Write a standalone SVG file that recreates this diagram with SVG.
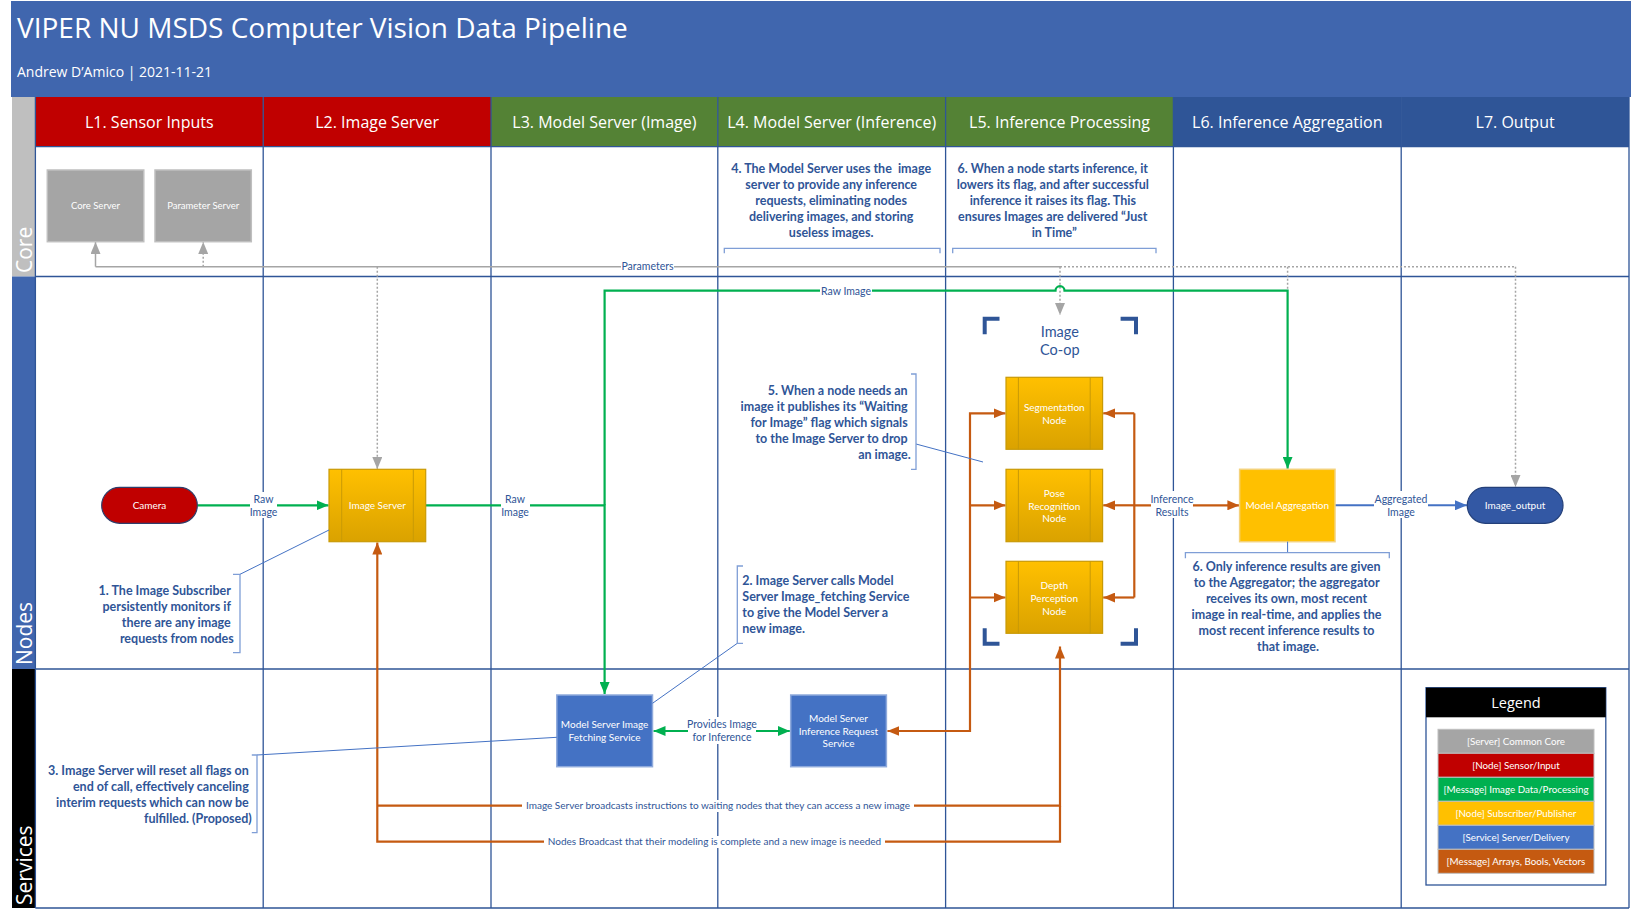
<svg xmlns="http://www.w3.org/2000/svg" width="1631" height="919" viewBox="0 0 1631 919">
<style>
.os{font-family:"Open Sans","Noto Sans",sans-serif}
.title{font-family:"Open Sans","Noto Sans",sans-serif;font-size:28px;fill:#fff}
.sub{font-family:"Open Sans","Noto Sans",sans-serif;font-size:14px;fill:#fff}
.hdr{font-family:"Open Sans","Noto Sans",sans-serif;font-size:16px;fill:#fff;text-anchor:middle}
.row{font-family:"Open Sans","Noto Sans",sans-serif;font-size:21px;fill:#fff}
.nl{font-family:Lato,"Liberation Sans",sans-serif;font-size:10px;fill:#fff;text-anchor:middle}
.cl{font-family:Lato,"Liberation Sans",sans-serif;font-size:10.5px;fill:#2F5597;text-anchor:middle}
.an{font-family:Lato,"Liberation Sans",sans-serif;font-size:12.5px;font-weight:bold;fill:#2F5597}
.coop{font-family:Lato,"Liberation Sans",sans-serif;font-size:14.5px;fill:#2F5597;text-anchor:middle}
.lane{stroke:#2F5597;stroke-width:1.3;fill:none}
.br{stroke:#7F9ED6;stroke-width:1.3;fill:none}
.ld{stroke:#4472C4;stroke-width:1;fill:none}
.g{stroke:#00B050;stroke-width:2.2;fill:none}
.o{stroke:#C55A11;stroke-width:2.2;fill:none}
.gr{stroke:#A5A5A5;stroke-width:1.5;fill:none}
.grd{stroke:#A5A5A5;stroke-width:1.5;fill:none;stroke-dasharray:2 2}
.ynode{fill:url(#yg);stroke:#C99A06;stroke-width:1.2}
.inner{stroke:#C99A06;stroke-width:1}
.svc{fill:#4472C4;stroke:#8FAADC;stroke-width:1.5}
.core{fill:#A5A5A5;stroke:#BFBFBF;stroke-width:1.5}
.lbg{fill:#fff}
.brk{stroke:#2F5597;stroke-width:4;fill:none}
.leg{stroke:#BFBFBF;stroke-width:1}
.lt{font-family:Lato,"Liberation Sans",sans-serif;font-size:9.8px;fill:#fff;text-anchor:middle}
</style>
<defs>
<linearGradient id="yg" x1="0" y1="0" x2="0" y2="1">
<stop offset="0" stop-color="#FFC000"/>
<stop offset="1" stop-color="#DAA200"/>
</linearGradient>
<marker id="mg" viewBox="0 0 12 10" refX="12" refY="5" markerWidth="12" markerHeight="10" markerUnits="userSpaceOnUse" orient="auto-start-reverse"><path d="M0,0 L12,5 L0,10z" fill="#00B050"/></marker>
<marker id="mo" viewBox="0 0 12 10" refX="12" refY="5" markerWidth="12" markerHeight="10" markerUnits="userSpaceOnUse" orient="auto-start-reverse"><path d="M0,0 L12,5 L0,10z" fill="#C55A11"/></marker>
<marker id="mgr" viewBox="0 0 12 10" refX="12" refY="5" markerWidth="12" markerHeight="10" markerUnits="userSpaceOnUse" orient="auto-start-reverse"><path d="M0,0 L12,5 L0,10z" fill="#A5A5A5"/></marker>
<marker id="mb" viewBox="0 0 12 10" refX="12" refY="5" markerWidth="12" markerHeight="10" markerUnits="userSpaceOnUse" orient="auto-start-reverse"><path d="M0,0 L12,5 L0,10z" fill="#4472C4"/></marker>
</defs>

<rect x="0" y="0" width="1631" height="919" fill="#fff"/>

<g id="header">
<rect x="11" y="1" width="1620" height="96" fill="#4066AE"/>
<text class="title" x="17" y="38">VIPER NU MSDS Computer Vision Data Pipeline</text>
<text class="sub" x="17" y="77">Andrew D’Amico | 2021-11-21</text>
</g>

<g id="lanes">
<rect x="35.4" y="97" width="227.8" height="49.6" fill="#C00000"/>
<rect x="263.2" y="97" width="227.8" height="49.6" fill="#C00000"/>
<rect x="491" y="97" width="226.8" height="49.6" fill="#548235"/>
<rect x="717.8" y="97" width="227.8" height="49.6" fill="#548235"/>
<rect x="945.6" y="97" width="227.8" height="49.6" fill="#548235"/>
<rect x="1173.4" y="97" width="227.8" height="49.6" fill="#2F5597"/>
<rect x="1401.2" y="97" width="227.8" height="49.6" fill="#2F5597"/>
<text class="hdr" x="149.3" y="127.5">L1. Sensor Inputs</text>
<text class="hdr" x="377.1" y="127.5">L2. Image Server</text>
<text class="hdr" x="604.4" y="127.5">L3. Model Server (Image)</text>
<text class="hdr" x="831.7" y="127.5">L4. Model Server (Inference)</text>
<text class="hdr" x="1059.5" y="127.5">L5. Inference Processing</text>
<text class="hdr" x="1287.3" y="127.5">L6. Inference Aggregation</text>
<text class="hdr" x="1515.1" y="127.5">L7. Output</text>
<rect x="12" y="97" width="23.4" height="179.5" fill="#BFBFBF"/>
<rect x="12" y="276.5" width="23.4" height="392.5" fill="#4066AE"/>
<rect x="12" y="669" width="23.4" height="239" fill="#000"/>
<text class="row" transform="translate(32 273) rotate(-90)">Core</text>
<text class="row" transform="translate(32 665) rotate(-90)">Nodes</text>
<text class="row" transform="translate(32 905) rotate(-90)">Services</text>
<path class="lane" d="M35.4,146.6 H1629 M35.4,276.5 H1629 M35.4,669 H1629 M35.4,908 H1629"/>
<path class="lane" d="M35.4,97 V908 M263.2,97 V908 M491,97 V908 M717.8,97 V908 M945.6,97 V908 M1173.4,97 V908 M1401.2,97 V908 M1629,97 V908"/>
</g>

<g id="connectors">
<path class="gr" d="M95.5,266.7 H1060"/>
<path class="gr" d="M95.5,266.7 V242" marker-end="url(#mgr)"/>
<path class="grd" d="M1060,266.7 H1515.5"/>
<path class="grd" d="M203.2,266.7 V242" marker-end="url(#mgr)"/>
<path class="grd" d="M377.3,266.7 V469" marker-end="url(#mgr)"/>
<path class="grd" d="M1060,266.7 V315" marker-end="url(#mgr)"/>
<path class="grd" d="M1287.6,266.7 V290.7"/>
<path class="grd" d="M1515.5,266.7 V487" marker-end="url(#mgr)"/>
<rect class="lbg" x="621" y="261" width="53" height="11"/>
<text class="cl" x="647.5" y="270.3">Parameters</text>

<path class="g" d="M197.3,505.3 H328.5" marker-end="url(#mg)"/>
<rect class="lbg" x="250" y="492" width="27" height="26"/>
<text class="cl" x="263.5" y="502.5">Raw</text>
<text class="cl" x="263.5" y="515.5">Image</text>
<path class="g" d="M426,505.3 H604.6 V694" marker-end="url(#mg)"/>
<rect class="lbg" x="501" y="492" width="29" height="26"/>
<text class="cl" x="515" y="502.5">Raw</text>
<text class="cl" x="515" y="515.5">Image</text>
<path class="g" d="M604.6,505.3 V290.7 H1055.5 A4.5,4.5 0 0 1 1064.5,290.7 H1287.6 V468.8" marker-end="url(#mg)"/>
<rect class="lbg" x="820" y="285" width="52" height="12"/>
<text class="cl" x="846" y="294.5">Raw Image</text>
<path class="g" d="M653.5,731 H789.8" marker-start="url(#mg)" marker-end="url(#mg)"/>
<rect class="lbg" x="688" y="717" width="68" height="27"/>
<text class="cl" x="722" y="728">Provides Image</text>
<text class="cl" x="722" y="740.5">for Inference</text>

<path class="o" d="M1060,805.7 V841.7 H377.3 V542.5" marker-end="url(#mo)"/>
<path class="o" d="M377.3,805.7 H1060 V646.5" marker-end="url(#mo)"/>
<rect class="lbg" x="522" y="800" width="392" height="12"/>
<text class="cl" x="718" y="809.3" style="font-size:10px">Image Server broadcasts instructions to waiting nodes that they can access a new image</text>
<rect class="lbg" x="544" y="836" width="341" height="12"/>
<text class="cl" x="714.5" y="845.3" style="font-size:10px">Nodes Broadcast that their modeling is complete and a new image is needed</text>

<path class="o" d="M887.4,731 H970 V413.3 H1005.5" marker-start="url(#mo)" marker-end="url(#mo)"/>
<path class="o" d="M970,505.3 H1005.5" marker-end="url(#mo)"/>
<path class="o" d="M970,597.5 H1005.5" marker-end="url(#mo)"/>
<path class="o" d="M1134.3,413.3 V597.5"/>
<path class="o" d="M1134.3,413.3 H1103.2" marker-end="url(#mo)"/>
<path class="o" d="M1134.3,505.3 H1103.2" marker-end="url(#mo)"/>
<path class="o" d="M1134.3,597.5 H1103.2" marker-end="url(#mo)"/>
<path class="o" d="M1134.3,505.3 H1239.4" stroke-width="3" marker-end="url(#mo)"/>
<rect class="lbg" x="1151" y="491" width="42" height="27"/>
<text class="cl" x="1172" y="502.5">Inference</text>
<text class="cl" x="1172" y="515.5">Results</text>

<path d="M1335,505.3 H1467" stroke="#4472C4" stroke-width="2" fill="none" marker-end="url(#mb)"/>
<rect class="lbg" x="1374" y="491" width="54" height="27"/>
<text class="cl" x="1401" y="502.5">Aggregated</text>
<text class="cl" x="1401" y="515.5">Image</text>
</g>

<g id="core-server">
<rect class="core" x="47.3" y="170" width="96.5" height="71.7"/>
<text class="nl" x="95.5" y="209" style="font-size:9.5px">Core Server</text>
</g>
<g id="parameter-server">
<rect class="core" x="155" y="170" width="96.3" height="71.7"/>
<text class="nl" x="203.2" y="209" style="font-size:9.5px">Parameter Server</text>
</g>

<g id="camera">
<rect x="101.7" y="487.3" width="95.6" height="36" rx="18" fill="#C00000" stroke="#2F3E6B" stroke-width="1.2"/>
<text class="nl" x="149.5" y="509">Camera</text>
</g>

<g id="image-server">
<rect class="ynode" x="329" y="469.3" width="96.7" height="72.4"/>
<path class="inner" d="M341.7,469.3 V541.7 M413.3,469.3 V541.7"/>
<text class="nl" x="377.3" y="509">Image Server</text>
</g>

<g id="image-coop">
<path class="brk" d="M984.7,334.3 V318.7 H999.5 M1120.6,318.7 H1136 V334.3 M984.7,628.3 V643.7 H999.5 M1120.6,643.7 H1136 V628.3"/>
<text class="coop" x="1059.8" y="337">Image</text>
<text class="coop" x="1059.8" y="355">Co-op</text>
</g>

<g id="segmentation-node">
<rect class="ynode" x="1006" y="377.3" width="96.6" height="72"/>
<path class="inner" d="M1018.4,377.3 V449.3 M1090.2,377.3 V449.3"/>
<text class="nl" x="1054.3" y="410.5">Segmentation</text>
<text class="nl" x="1054.3" y="423.5">Node</text>
</g>

<g id="pose-node">
<rect class="ynode" x="1006" y="469.3" width="96.6" height="72.4"/>
<path class="inner" d="M1018.4,469.3 V541.7 M1090.2,469.3 V541.7"/>
<text class="nl" x="1054.3" y="496.5">Pose</text>
<text class="nl" x="1054.3" y="509.5">Recognition</text>
<text class="nl" x="1054.3" y="522">Node</text>
</g>

<g id="depth-node">
<rect class="ynode" x="1006" y="561.3" width="96.6" height="72"/>
<path class="inner" d="M1018.4,561.3 V633.3 M1090.2,561.3 V633.3"/>
<text class="nl" x="1054.3" y="588.5">Depth</text>
<text class="nl" x="1054.3" y="601.5">Perception</text>
<text class="nl" x="1054.3" y="614.5">Node</text>
</g>

<g id="model-aggregation">
<rect x="1239.6" y="469.3" width="95.4" height="72.4" fill="#FFC000" stroke="#F4D27A" stroke-width="1.5"/>
<text class="nl" x="1287.3" y="509">Model Aggregation</text>
</g>

<g id="image-output">
<rect x="1467.3" y="487.3" width="95.7" height="36" rx="18" fill="#3358A4" stroke="#24407A" stroke-width="1.2"/>
<text class="nl" x="1515.1" y="509">Image_output</text>
</g>

<g id="fetching-service">
<rect class="svc" x="556.8" y="695" width="95.7" height="71.7"/>
<text class="nl" x="604.6" y="728">Model Server Image</text>
<text class="nl" x="604.6" y="740.5">Fetching Service</text>
</g>

<g id="inference-request-service">
<rect class="svc" x="790.7" y="695" width="95.7" height="71.7"/>
<text class="nl" x="838.5" y="721.5">Model Server</text>
<text class="nl" x="838.5" y="734.5">Inference Request</text>
<text class="nl" x="838.5" y="747">Service</text>
</g>

<g id="annotation-1">
<path class="ld" d="M329,530 L240,574.3"/>
<path class="br" d="M233,574.3 H240 V652.7 H233"/>
<text class="an" text-anchor="end">
<tspan x="233.7" y="594.5">1. The Image Subscriber</tspan>
<tspan x="233.7" y="610.5">persistently monitors if</tspan>
<tspan x="233.7" y="626.5">there are any image</tspan>
<tspan x="233.7" y="642.5">requests from nodes</tspan>
</text>
</g>

<g id="annotation-2">
<path class="ld" d="M737.3,643.3 L652.5,703.3"/>
<path class="br" d="M743,566 H737.3 V643.3 H743"/>
<text class="an">
<tspan x="742.3" y="585">2. Image Server calls Model</tspan>
<tspan x="742.3" y="601">Server Image_fetching Service</tspan>
<tspan x="742.3" y="617">to give the Model Server a</tspan>
<tspan x="742.3" y="633">new image.</tspan>
</text>
</g>

<g id="annotation-3">
<path class="ld" d="M257,755 L556.8,737.3"/>
<path class="br" d="M251.8,755 H257 V832.7 H251.8"/>
<text class="an" text-anchor="end">
<tspan x="251.8" y="774.5">3. Image Server will reset all flags on</tspan>
<tspan x="251.8" y="790.5">end of call, effectively canceling</tspan>
<tspan x="251.8" y="806.5">interim requests which can now be</tspan>
<tspan x="251.8" y="822.5">fulfilled. (Proposed)</tspan>
</text>
</g>

<g id="annotation-4">
<path class="br" d="M724.3,253.3 V248.3 H940 V253.3"/>
<text class="an" text-anchor="middle" xml:space="preserve">
<tspan x="832.7" y="172.5">4. The Model Server uses the  image</tspan>
<tspan x="832.7" y="188.5">server to provide any inference</tspan>
<tspan x="832.7" y="204.5">requests, eliminating nodes</tspan>
<tspan x="832.7" y="220.5">delivering images, and storing</tspan>
<tspan x="832.7" y="236.5">useless images.</tspan>
</text>
</g>

<g id="annotation-5">
<path class="ld" d="M916,444 L983,462"/>
<path class="br" d="M911,374 H916 V469.3 H911"/>
<text class="an" text-anchor="end">
<tspan x="910.7" y="394.5">5. When a node needs an</tspan>
<tspan x="910.7" y="410.5">image it publishes its “Waiting</tspan>
<tspan x="910.7" y="426.5">for Image” flag which signals</tspan>
<tspan x="910.7" y="442.5">to the Image Server to drop</tspan>
<tspan x="910.7" y="458.5">an image.</tspan>
</text>
</g>

<g id="annotation-6a">
<path class="br" d="M952.7,253.3 V248.3 H1156 V253.3"/>
<text class="an" text-anchor="middle">
<tspan x="1054.3" y="172.5">6. When a node starts inference, it</tspan>
<tspan x="1054.3" y="188.5">lowers its flag, and after successful</tspan>
<tspan x="1054.3" y="204.5">inference it raises its flag. This</tspan>
<tspan x="1054.3" y="220.5">ensures Images are delivered “Just</tspan>
<tspan x="1054.3" y="236.5">in Time”</tspan>
</text>
</g>

<g id="annotation-6b">
<path class="ld" d="M1287.6,541.7 V552.7"/>
<path class="br" d="M1185.4,558.3 V552.7 H1389.3 V558.3"/>
<text class="an" text-anchor="middle">
<tspan x="1288" y="571">6. Only inference results are given</tspan>
<tspan x="1288" y="587">to the Aggregator; the aggregator</tspan>
<tspan x="1288" y="603">receives its own, most recent</tspan>
<tspan x="1288" y="619">image in real-time, and applies the</tspan>
<tspan x="1288" y="635">most recent inference results to</tspan>
<tspan x="1288" y="651">that image.</tspan>
</text>
</g>

<g id="legend">
<rect x="1426" y="687.7" width="179.8" height="197.3" fill="#fff" stroke="#2F5597" stroke-width="1.3"/>
<rect x="1426" y="687.7" width="179.8" height="29.6" fill="#000"/>
<text class="os" x="1516" y="707.5" text-anchor="middle" font-size="14.5" fill="#fff">Legend</text>
<rect class="leg" x="1438" y="729.3" width="156" height="24" fill="#A5A5A5"/>
<rect class="leg" x="1438" y="753.3" width="156" height="24" fill="#C00000"/>
<rect class="leg" x="1438" y="777.3" width="156" height="24" fill="#00B050"/>
<rect class="leg" x="1438" y="801.3" width="156" height="24" fill="#FFC000"/>
<rect class="leg" x="1438" y="825.3" width="156" height="24" fill="#4472C4"/>
<rect class="leg" x="1438" y="849.3" width="156" height="24" fill="#C55A11"/>
<text class="lt" x="1516" y="745">[Server] Common Core</text>
<text class="lt" x="1516" y="769">[Node] Sensor/Input</text>
<text class="lt" x="1516" y="793">[Message] Image Data/Processing</text>
<text class="lt" x="1516" y="817">[Node] Subscriber/Publisher</text>
<text class="lt" x="1516" y="841">[Service] Server/Delivery</text>
<text class="lt" x="1516" y="865">[Message] Arrays, Bools, Vectors</text>
</g>
</svg>
